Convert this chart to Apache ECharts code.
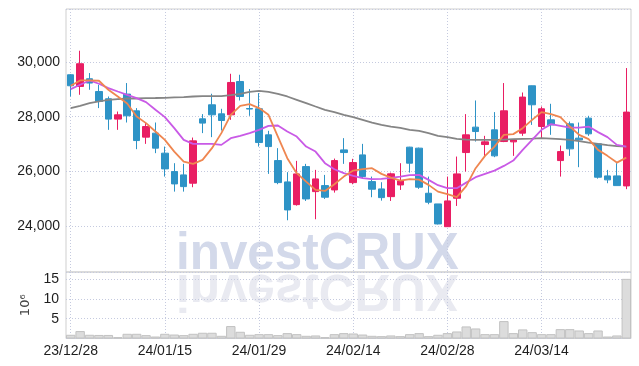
<!DOCTYPE html>
<html><head><meta charset="utf-8">
<script src="https://cdn.jsdelivr.net/npm/echarts@6/dist/echarts.min.js"></script>
<style>html,body{margin:0;padding:0;background:#fff}#c{width:639px;height:366px}</style>
</head><body><div id="c"></div>
<script>
const dates = ['23/12/28','24/01/02','24/01/03','24/01/04','24/01/05','24/01/08','24/01/09','24/01/10','24/01/11','24/01/12',
'24/01/15','24/01/16','24/01/17','24/01/18','24/01/19','24/01/22','24/01/23','24/01/24','24/01/25','24/01/26',
'24/01/29','24/01/30','24/01/31','24/02/01','24/02/02','24/02/05','24/02/06','24/02/07','24/02/08','24/02/13',
'24/02/14','24/02/15','24/02/16','24/02/19','24/02/20','24/02/21','24/02/22','24/02/23','24/02/26','24/02/27',
'24/02/28','24/02/29','24/03/04','24/03/05','24/03/06','24/03/07','24/03/08','24/03/11','24/03/12','24/03/13',
'24/03/14','24/03/15','24/03/18','24/03/19','24/03/20','24/03/21','24/03/22','24/03/25','24/03/26','24/03/27'];
const opens = [29535,29107,29388,28923,28656,27912,28828,28215,27253,27399,
26667,25993,25872,25568,27923,28436,28106,28070,29289,28300,
28290,27337,26396,25615,24784,26176,25260,25480,25322,26787,
25590,26604,25627,25359,25077,25504,26887,26850,25201,24810,
23978,25018,26689,27619,26982,27520,27092,27080,27399,29132,
27641,27886,26396,27740,27216,27948,27007,25835,25835,25469];
const closes = [29132,29938,29231,28557,27912,28070,28033,27128,27641,26850,
26092,25542,25443,27117,27766,28070,27861,29253,28740,28280,
27055,26908,25590,24590,25908,24993,25725,25055,26396,26689,
26323,25810,25348,25041,25910,25650,26300,25422,24872,24077,
24920,25908,27337,27458,27081,26568,28216,27150,28718,28436,
28290,27700,26725,26824,27153,27374,25787,25690,25480,28169];
const lows = [28740,28802,28985,28315,27520,27520,27788,26813,27007,26667,
25810,25260,25260,25421,27400,27253,27495,27886,28594,28033,
26908,25909,25531,24212,24747,24919,24249,24993,25224,26275,
25530,25725,25055,24930,24919,25322,25956,25360,24798,24060,
23978,24736,25993,27092,26543,26520,27070,26568,27300,27700,
27216,27337,25810,26568,26154,27300,25735,25567,25480,25350];
const highs = [29560,30414,29597,29169,28740,28190,29231,28315,27788,27788,
26908,26300,26275,27238,28095,28840,28290,29571,29535,29011,
28864,27484,26850,25971,26385,26275,26055,25872,26469,27216,
26460,27007,25810,25604,25956,26300,26900,26870,25810,24810,
25810,26543,28095,28594,27300,28169,29231,27150,28886,29140,
28374,28473,26945,27824,27788,28033,27020,26055,26300,29780];
const maShort = [29132,29326,29326,29315,28985,28740,28480,28007,27766,27458,
27154,26725,26359,26275,26421,26850,27399,28070,28399,28462,
28315,28070,27275,26484,25934,25626,25326,25286,25531,25810,
26030,26081,26117,25909,25774,25664,25715,25700,25507,25260,
25165,25060,25460,26117,26568,26908,27337,27363,27582,27886,
28168,28095,27985,27641,27337,27180,26787,26568,26322,26505];
const maMid = [29011,29169,29326,29205,29048,28923,28802,28681,28535,28253,
27985,27582,27154,27007,27007,27007,26970,27216,27300,27400,
27520,27667,27678,27458,27275,26908,26725,26300,26080,25934,
25835,25750,25714,25725,25762,25810,25861,25873,25689,25494,
25385,25385,25590,25788,25909,26030,26200,26396,26787,27154,
27520,27729,27667,27604,27604,27641,27436,27253,26970,26908];
const maLong = [28315,28400,28498,28557,28619,28645,28667,28667,28681,28685,
28692,28705,28718,28740,28750,28755,28755,28791,28839,28912,
28949,28912,28839,28740,28619,28498,28374,28253,28168,28070,
27985,27886,27788,27703,27641,27593,27520,27484,27400,27300,
27253,27190,27165,27154,27154,27154,27165,27179,27190,27200,
27216,27200,27179,27154,27106,27055,27007,26960,26923,26908];
const volumes = [0.94,1.88,0.94,0.9,0.9,0.35,1.19,1.19,0.85,0.5,
1.19,1.0,0.85,1.19,1.45,1.45,0.68,3.14,1.7,0.94,
1.1,1.1,0.85,1.36,1.1,0.68,0.77,0.35,1.1,1.36,
1.27,1.0,0.68,0.6,0.77,0.6,1.1,1.36,0.6,0.94,
1.36,1.78,3.05,2.54,1.1,1.1,4.4,1.36,2.3,1.6,
1.1,1.1,2.37,2.37,2.03,1.36,2.03,0.5,0.77,15.07];
const volumeUnit = '10\u2076';
const watermark = 'investCRUX';

const candle = dates.map((d, i) => [opens[i], closes[i], lows[i], highs[i]]);
const FONT = "'Liberation Sans', Arial, sans-serif";
const gridLine = {show: true, interval: 9, alignWithLabel: true, lineStyle: {color: '#c5cadf', type: [1, 2], width: 1}};
const hSplit = {show: true, lineStyle: {color: '#c5cadf', type: [1, 2], width: 1}};

const chart = echarts.init(document.getElementById('c'), null, {renderer: 'canvas'});
chart.setOption({
  animation: false,
  backgroundColor: '#fff',
  grid: [
    {left: 66, right: 8, top: 9, height: 263, show: true, borderColor: '#cfcfcf', borderWidth: 1, backgroundColor: 'transparent', outerBoundsMode: 'none'},
    {left: 66, right: 8, top: 272, height: 66.5, show: true, borderColor: '#cfcfcf', borderWidth: 1, backgroundColor: 'transparent', outerBoundsMode: 'none'}
  ],
  xAxis: [
    {type: 'category', gridIndex: 0, data: dates, boundaryGap: true,
     axisLine: {show: false}, axisTick: {show: false}, axisLabel: {show: false}, splitLine: gridLine},
    {type: 'category', gridIndex: 1, data: dates, boundaryGap: true,
     axisLine: {show: false}, axisTick: {show: false},
     axisLabel: {show: true, interval: 9, color: '#1e1e1e', fontFamily: FONT, fontSize: 14, margin: 6},
     splitLine: gridLine}
  ],
  yAxis: [
    {type: 'value', gridIndex: 0, min: 22320, max: 31940, splitNumber: 5, scale: true,
     axisLine: {show: false}, axisTick: {show: false},
     axisLabel: {color: '#1e1e1e', fontFamily: FONT, fontSize: 14, margin: 6, showMinLabel: false, showMaxLabel: false,
       formatter: v => Math.round(v).toLocaleString('en-US')},
     splitLine: hSplit},
    {type: 'value', gridIndex: 1, min: 0, max: 16.8, splitNumber: 3,
     name: volumeUnit, nameLocation: 'middle', nameRotate: 90, nameGap: 23,
     nameTextStyle: {color: '#444', fontFamily: 'DejaVu Sans', fontSize: 13},
     axisLine: {show: false}, axisTick: {show: false},
     axisLabel: {color: '#1e1e1e', fontFamily: FONT, fontSize: 14, margin: 7, showMinLabel: false, showMaxLabel: false},
     splitLine: hSplit}
  ],
  graphic: [
    {type: 'text', x: 176, y: 272, scaleX: 0.95, z: -10, silent: true,
     style: {text: watermark, x: 0, y: 9, verticalAlign: 'bottom', font: "bold 52px 'Liberation Sans', Arial, sans-serif", fill: '#d3d9ea'}},
    {type: 'text', x: 176, y: 272, scaleX: 0.95, scaleY: -1, z: -10, silent: true,
     style: {text: watermark, x: 0, y: 9, verticalAlign: 'bottom', font: "bold 52px 'Liberation Sans', Arial, sans-serif", fill: '#e9eaf1'}}
  ],
  series: [
    {type: 'candlestick', xAxisIndex: 0, yAxisIndex: 0, data: candle, barWidth: 7,
     itemStyle: {color: '#e91e63', color0: '#2e93c6', borderColor: '#e91e63', borderColor0: '#2e93c6', borderWidth: 1}},
    {type: 'line', xAxisIndex: 0, yAxisIndex: 0, data: maLong, symbol: 'none', lineStyle: {color: '#858585', width: 1.8}},
    {type: 'line', xAxisIndex: 0, yAxisIndex: 0, data: maMid, symbol: 'none', lineStyle: {color: '#c95ae6', width: 1.8}},
    {type: 'line', xAxisIndex: 0, yAxisIndex: 0, data: maShort, symbol: 'none', lineStyle: {color: '#ef8650', width: 1.8}},
    {type: 'bar', xAxisIndex: 1, yAxisIndex: 1, data: volumes, barWidth: '100%',
     itemStyle: {color: '#dcdcdc', borderColor: '#c2c2c2', borderWidth: 1}}
  ]
});
</script></body></html>
